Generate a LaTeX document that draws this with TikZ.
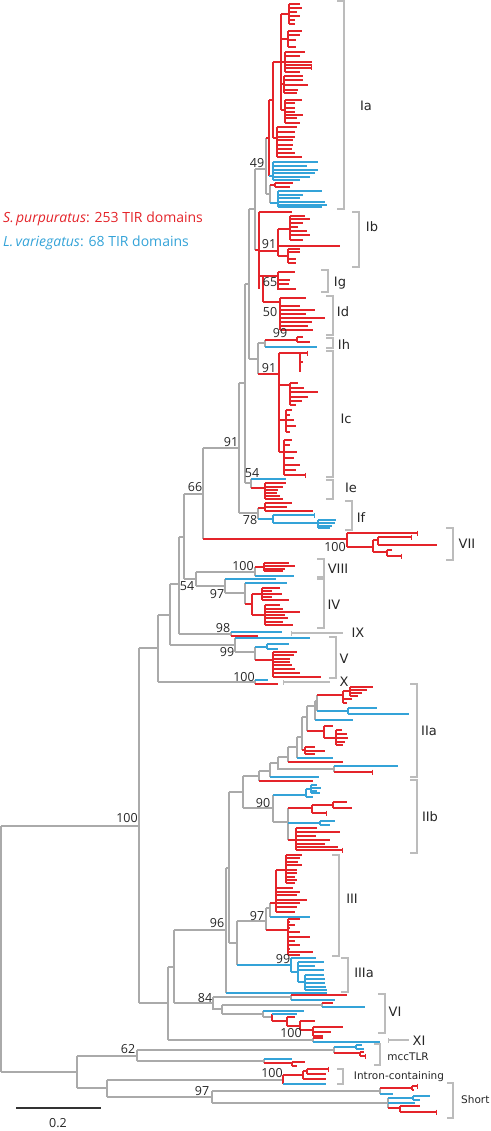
\documentclass[tikz,border=0pt]{standalone}
\usepackage{fontspec}
\setmainfont{Open Sans}
\newfontfamily\cladefont{DejaVu Sans}
\usetikzlibrary{arrows.meta}
\definecolor{spred}{RGB}{228,36,42}
\definecolor{lvblue}{RGB}{52,163,216}
\definecolor{treegray}{RGB}{170,170,170}
\definecolor{brgray}{RGB}{188,188,188}
\tikzset{
  gr/.style={draw=treegray, line width=1.2pt},
  rd/.style={draw=spred, line width=1.2pt},
  bl/.style={draw=lvblue, line width=1.2pt},
  tk/.style={-{Bar[width=5pt]}},
  brk/.style={draw=brgray, line width=1.2pt},
  bs/.style={font=\fontsize{12.5}{13}\selectfont, text=black!85, inner sep=0pt},
  cl/.style={font=\cladefont\fontsize{13}{14}\selectfont, text=black!85, inner sep=0pt},
  sm/.style={font=\cladefont\fontsize{10.5}{12}\selectfont, text=black!85, inner sep=0pt},
  lg/.style={font=\fontsize{14}{16}\selectfont, anchor=west, inner sep=0pt},
}
% branch: grey vertical at the parent, coloured horizontal to the child
\newcommand\edge[3][gr]{\draw[gr] (#2) -- (#2|-#3); \draw[#1] (#2|-#3) -- (#3);}
% stem at x=#2 from #3 to #4, leaves y/xend
\newcommand\comb[5]{\draw[#1] (#2,#3) -- (#2,#4); \foreach \yy/\xx in {#5} \draw[#1] (#2,\yy) -- (\xx,\yy);}
% bracket at x=#1 from #2 to #3, label node #4 at #5
\newcommand\clade[6]{\draw[brk] ({#1-7},#2) -- (#1,#2) -- (#1,#3) -- ({#1-7},#3); \node[cl] (#4) at (#5) {#6};}
\newcommand\cladetick[6]{\draw[brk,{Bar[width=5pt]}-] (#1,#3) -- (#2,#3); \node[cl] (#4) at (#5) {#6};}

\begin{document}
\begin{tikzpicture}[x=1pt,y=-1pt]
\useasboundingbox (0,0) rectangle (490,1131);

% backbone
\coordinate (root) at (1,948);
\coordinate (n100) at (139,826);
\coordinate (nB) at (77,1072);
\coordinate (n158) at (158,648);
\coordinate (n168) at (168,1003);
\coordinate (n170) at (170,615);
\coordinate (nX) at (255,682);
\coordinate (n179) at (179,584);
\coordinate (nV) at (235,645);
\coordinate (n184) at (184,537);
\coordinate (nIX) at (231,634);
\coordinate (n66) at (203,494);
\coordinate (n196) at (196,579);
\coordinate (nVIII) at (255,572);
\coordinate (nIV) at (225,586);
\coordinate (n91) at (239,448);
\coordinate (nVII) at (347,539);
\coordinate (n245) at (245,383);
\coordinate (n78) at (258,513);
\coordinate (n249) at (249,284);
\coordinate (n54) at (251,483);
\coordinate (n255) at (255,209);
\coordinate (nhc) at (258,359);
\coordinate (n49) at (266,169);
\coordinate (nbgd) at (259,250);
\coordinate (R0) at (269,138);
\coordinate (M) at (270,194);
\coordinate (nIh) at (265,343);
\coordinate (nIc) at (279,374);
\coordinate (n174) at (174,967);
\coordinate (nXI) at (313,1040);
\coordinate (n96) at (226,930);
\coordinate (n84) at (213,1003);
\coordinate (n229) at (229,868);
\coordinate (lf96) at (327,993);
\coordinate (n243) at (243,792);
\coordinate (n237) at (237,943);
\coordinate (nIIa) at (259,776);
\coordinate (n90) at (273,808);
\coordinate (nIII) at (266,921);
\coordinate (nIIIa) at (291,965);
\coordinate (n62) at (137,1056);
\coordinate (nC) at (107,1088);
\coordinate (nmA) at (334,1050);
\coordinate (nmB) at (264,1061);
\coordinate (nIn) at (283,1080);
\coordinate (n97s) at (212,1097);
\coordinate (nS1) at (380,1091);
\coordinate (nS2) at (388,1103);

\edge{root}{n100} \edge{root}{nB}
\edge{n100}{n158} \edge{n100}{n168}
\edge{n158}{n170} \edge{n158}{nX}
\edge{n170}{n179} \edge{n170}{nV}
\edge{n179}{n184} \edge{n179}{nIX}
\edge{n184}{n66} \edge{n184}{n196}
\edge{n196}{nVIII} \edge{n196}{nIV}
\edge{n66}{n91} \edge[rd]{n66}{nVII}
\edge{n91}{n245} \edge{n91}{n78}
\edge{n245}{n249} \edge{n245}{n54}
\edge{n249}{n255} \edge{n249}{nhc}
\edge{n255}{n49} \edge[rd]{n255}{nbgd}
\edge[rd]{n49}{R0} \edge{n49}{M}
\edge{nhc}{nIh} \edge[rd]{nhc}{nIc}
\edge{n168}{n174} \edge{n168}{nXI}
\edge{n174}{n96} \edge{n174}{n84}
\edge{n96}{n229} \edge[bl]{n96}{lf96}
\edge{n229}{n243} \edge{n229}{n237}
\edge{n243}{nIIa} \edge{n243}{n90}
\edge{n237}{nIII} \edge[bl]{n237}{nIIIa}
\edge{nB}{n62} \edge{nB}{nC}
\edge{n62}{nmA} \edge{n62}{nmB}
\edge{nC}{nIn} \edge{nC}{n97s}
\edge{n97s}{nS1} \edge{n97s}{nS2}

% Ia
\comb{rd}{269}{100}{176}{100/273}
\draw[bl] (269,176) -- (273,176);
\comb{rd}{273}{62}{138}{62/281,138/277}
\comb{rd}{281}{14}{110}{14/289,39/288,62/285,84/284,110/285}
\comb{rd}{289}{4}{24}{4/300,8/302,12/297,16/300,20/295,24/295}
\comb{rd}{288}{31}{47}{31/302,35/300,40/296,47/296}
\comb{rd}{285}{52}{72}{52/305,56/300,62/312,65/312,72/300}
\draw[rd,tk] (285,68) -- (312,68);
\comb{rd}{284}{76}{93}{76/303,80/303,85/308,90/298,93/297}
\comb{rd}{285}{100}{123}{100/302,103/295,108/295,112/295,115/303,118/297,123/300}
\comb{rd}{277}{127}{157}{127/297,132/295,137/295,140/293,145/293,149/292,153/295,157/302}
\comb{bl}{273}{162}{180}{162/318,166/307,170/318,173/315,177/310,180/300}
\draw[gr] (270,185) -- (270,203);
\draw[rd] (270,185) -- (275,185);
\comb{rd}{275}{183}{187}{183/293,187/290}
\draw[bl] (270,203) -- (278,203);
\comb{bl}{278}{191}{207}{191/322,195/303,198/300,202/325,205/327,207/322}

% Ib, Ig, Id
\comb{rd}{259}{212}{289}{212/292,251/278,276/263}
\draw[rd] (263,276) -- (263,302);
\draw[rd] (263,276) -- (278,276);
\draw[rd] (263,302) -- (280,302);
\comb{rd}{278}{229}{256}{229/290,246/340,256/288}
\comb{rd}{290}{216}{240}{216/305,219/310,223/303,227/298,231/307,235/310,240/303}
\comb{rd}{288}{249}{263}{249/300,252/300,259/296,263/296}
\comb{rd}{278}{272}{290}{272/295,280/290,284/289,289/296}
\comb{rd}{280}{298}{330}{298/306,306/300,310/315,314/306,318/325,322/312,326/308,330/313}

% Ih
\draw[gr] (265,340) -- (265,347);
\draw[rd] (265,340) -- (297,340);
\comb{rd}{297}{337}{342}{337/303,342/310}
\draw[bl] (265,347) -- (317,347);

% Ic
\comb{rd}{279}{353}{452}{353/300,385/290,420/286,452/284}
\comb{rd}{300}{353}{372}{362/303,372/300}
\draw[rd,tk] (300,353) -- (308,353);
\comb{rd}{290}{383}{405}{383/298,388/304,392/318,397/308,401/302,405/296}
\comb{rd}{286}{410}{432}{410/292,415/290,420/294,426/296,432/290}
\comb{rd}{284}{440}{475}{440/292,445/290,452/297,458/294,465/300,470/296}
\draw[rd,tk] (284,475) -- (306,475);

% Ie
\draw[gr] (251,479) -- (251,488);
\draw[bl] (251,479) -- (286,479);
\draw[rd] (251,488) -- (265,488);
\comb{rd}{265}{483}{499}{483/286,487/283,490/278,493/277,496/280,499/283}

% If
\draw[gr] (258,508) -- (258,519);
\draw[rd] (258,508) -- (265,508);
\comb{rd}{265}{503}{511}{503/292,507/287,511/313}
\draw[bl] (258,519) -- (273,519);
\comb{bl}{273}{515}{523}{523/318}
\draw[bl,tk] (273,515) -- (315,515);
\comb{bl}{318}{520}{528}{520/336,523/335,526/332,528/330}

% VII
\draw[rd] (347,533) -- (347,547);
\draw[rd,tk] (347,533) -- (418,533);
\draw[rd] (347,547) -- (373,547);
\comb{rd}{373}{540}{552}{540/378,552/387}
\comb{rd}{378}{537}{545}{545/437}
\draw[rd,tk] (378,537) -- (412,537);
\comb{rd}{387}{550}{556}{550/392}
\draw[rd,tk] (387,556) -- (402,556);

% VIII
\draw[gr] (255,567) -- (255,576);
\draw[rd] (255,567) -- (264,567);
\comb{rd}{264}{563}{571}{563/289,566/295,569/285,571/283}
\draw[bl] (255,576) -- (294,576);

% IV
\draw[gr] (225,579) -- (225,593);
\draw[bl] (225,579) -- (276,579);
\draw[gr] (225,593) -- (245,593);
\draw[gr] (245,583) -- (245,604);
\draw[bl] (245,583) -- (287,583);
\draw[rd] (245,604) -- (252,604);
\comb{rd}{252}{594}{615}{594/262,615/265}
\comb{rd}{262}{588}{600}{588/280,591/272,594/282,597/272,600/289}
\comb{rd}{265}{605}{625}{605/280,609/283,612/300,615/285,618/288,622/283,625/293}

% IX
\draw[gr] (231,632) -- (231,636);
\draw[bl] (231,632) -- (282,632);
\draw[rd] (231,636) -- (258,636);

% V
\draw[gr] (235,638) -- (235,652);
\draw[bl] (235,638) -- (310,638);
\draw[gr] (235,652) -- (255,652);
\draw[gr] (255,647) -- (255,660);
\draw[bl] (255,647) -- (267,647);
\comb{bl}{267}{644}{649}{644/289,649/278}
\draw[rd] (255,660) -- (273,660);
\comb{rd}{273}{652}{677}{652/297,655/294,659/290,662/290,665/292,669/295,673/300,677/321}

% X
\draw[gr] (255,680) -- (255,684);
\draw[bl] (255,680) -- (268,680);
\draw[rd] (255,684) -- (278,684);

% IIa
\draw[gr] (259,771) -- (259,781);
\draw[rd] (259,781) -- (313,781);
\draw[gr] (259,771) -- (270,771);
\draw[gr] (270,763) -- (270,777);
\draw[bl] (270,777) -- (319,777);
\draw[gr] (270,763) -- (278,763);
\draw[gr] (278,757) -- (278,769) -- (334,769);
\draw[gr] (334,766) -- (334,772);
\draw[bl] (334,766) -- (398,766);
\draw[rd,tk] (334,772) -- (373,772);
\draw[gr] (278,757) -- (288,757);
\draw[gr] (288,747) -- (288,762);
\draw[rd] (288,762) -- (343,762);
\draw[gr] (288,747) -- (297,747);
\draw[gr] (297,737) -- (297,758);
\draw[bl] (297,758) -- (333,758);
\draw[gr] (297,737) -- (302,737);
\draw[gr] (302,717) -- (302,750);
\draw[rd] (302,750) -- (305,750);
\comb{rd}{305}{747}{754}{747/315,751/325,754/315}
\draw[gr] (302,717) -- (307,717);
\draw[gr] (307,706) -- (307,731);
\draw[rd] (307,731) -- (324,731);
\comb{rd}{324}{726}{738}{726/333,738/336}
\comb{rd}{336}{730}{745}{730/342,734/347,738/348,742/345,745/343}
\draw[gr] (307,706) -- (315,706);
\draw[gr] (315,701) -- (315,720);
\draw[bl] (315,720) -- (353,720);
\draw[gr] (315,701) -- (317,701);
\draw[gr] (317,695) -- (317,711);
\draw[bl] (317,711) -- (348,711);
\comb{bl}{348}{708}{714}{708/377,714/409}
\draw[rd] (317,695) -- (343,695);
\comb{rd}{343}{691}{703}{691/350,699/352,703/347}
\comb{rd}{350}{687}{696}{687/373,690/367,693/362,696/358}

% IIb
\draw[gr] (273,795) -- (273,822);
\draw[bl] (273,795) -- (306,795);
\comb{bl}{306}{789}{797}{789/311,797/313}
\comb{bl}{311}{785}{793}{785/317,788/321,791/317,793/320}
\draw[gr] (273,822) -- (288,822);
\draw[gr] (288,808) -- (288,840);
\draw[rd] (288,808) -- (312,808);
\comb{rd}{312}{805}{813}{805/333}
\draw[rd,tk] (312,813) -- (327,813);
\comb{rd}{333}{802}{808}{802/347,808/352}
\draw[bl] (288,823) -- (320,823);
\comb{bl}{320}{821}{825}{821/335,825/330}
\draw[rd] (288,840) -- (296,840);
\comb{rd}{296}{828}{850}{828/317,832/340,836/316,840/330,844/325,847/338}
\draw[rd,tk] (296,850) -- (343,850);

% III
\draw[gr] (266,908) -- (266,930);
\draw[gr] (266,908) -- (270,908);
\draw[gr] (270,903) -- (270,917);
\draw[bl] (270,917) -- (310,917);
\draw[rd] (270,903) -- (276,903);
\comb{rd}{276}{870}{912}{870/286,888/293,892/300,895/297,900/307,903/300,907/297,912/295}
\comb{rd}{286}{855}{883}{855/302,858/300,862/298,865/302,870/297,873/297,877/295,880/297,883/295}
\draw[rd] (266,930) -- (288,930);
\comb{rd}{288}{919}{955}{919/300,922/290,925/295,928/290,932/300,937/310,941/295,945/300,949/290,952/313,955/300}

% IIIa
\comb{bl}{291}{958}{972}{958/316,972/298}
\comb{bl}{298}{962}{982}{962/324,966/315,970/324,982/305}
\comb{bl}{305}{975}{990}{975/324,979/325,983/325,987/326,990/327}

% VI
\draw[gr] (213,997) -- (291,997);
\draw[gr] (291,995) -- (291,1000);
\draw[rd] (291,995) -- (347,995);
\draw[bl] (291,1000) -- (335,1000);
\draw[gr] (213,997) -- (213,1009) -- (222,1009);
\draw[gr] (222,1005) -- (222,1014);
\draw[gr] (222,1005) -- (322,1005);
\draw[gr] (322,1003) -- (322,1007);
\draw[rd] (322,1003) -- (333,1003);
\draw[bl] (322,1007) -- (365,1007);
\draw[gr] (222,1014) -- (263,1014);
\draw[gr] (263,1011) -- (263,1017);
\draw[bl] (263,1011) -- (304,1011);
\draw[gr] (263,1017) -- (272,1017);
\draw[rd] (272,1014) -- (272,1021);
\draw[bl] (272,1014) -- (297,1014);
\draw[rd] (272,1021) -- (287,1021);
\comb{rd}{287}{1017}{1026}{1017/295,1026/300}
\comb{rd}{300}{1021}{1030}{1021/315,1030/313}
\comb{rd}{313}{1027}{1036}{1027/343,1032/331,1036/323}

% XI
\draw[gr] (313,1038) -- (313,1042);
\draw[rd] (313,1038) -- (323,1038);
\draw[bl] (313,1042) -- (380,1042);

% mccTLR
\draw[gr] (334,1047) -- (334,1053);
\draw[bl] (334,1047) -- (356,1047);
\comb{bl}{356}{1045}{1049}{1045/362,1049/364}
\draw[rd] (334,1053) -- (360,1053);
\comb{rd}{360}{1052}{1056}{1052/364}
\draw[rd,tk] (360,1056) -- (366,1056);
\draw[gr] (264,1059) -- (264,1063);
\draw[bl] (264,1059) -- (292,1059);
\draw[rd] (264,1063) -- (292,1063);
\comb{rd}{292}{1062}{1066}{1062/305,1066/297}

% intron-containing
\draw[rd] (283,1075) -- (283,1084);
\draw[rd] (283,1075) -- (303,1075);
\comb{rd}{303}{1071}{1079}{1079/326}
\draw[rd] (303,1071) -- (307,1071);
\comb{rd}{307}{1069}{1074}{1074/326}
\draw[rd,tk] (307,1069) -- (329,1069);
\draw[bl] (283,1084) -- (326,1084);

% short
\draw[gr] (380,1088) -- (380,1094);
\draw[rd] (380,1088) -- (412,1088);
\comb{rd}{412}{1086}{1090}{1090/414}
\draw[rd,tk] (412,1086) -- (418,1086);
\draw[bl] (380,1094) -- (393,1094);
\draw[gr] (388,1098) -- (388,1108);
\draw[bl] (388,1098) -- (413,1098);
\comb{bl}{413}{1096}{1100}{1096/430,1100/420}
\draw[bl] (388,1103) -- (415,1103);
\draw[rd] (388,1108) -- (400,1108);
\comb{rd}{400}{1106}{1112}{1106/420}
\draw[rd,tk] (400,1112) -- (437,1112);

% bootstrap values
\node[bs] (b49) at (257,163) {49};
\node[bs] (b91Ib) at (269,244) {91};
\node[bs] (b65) at (270,282) {65};
\node[bs] (b50) at (270,312) {50};
\node[bs] (b99Ih) at (280,333) {99};
\node[bs] (b91Ic) at (269,368) {91};
\node[bs] (b91) at (231,442) {91};
\node[bs] (b54Ie) at (252,473) {54};
\node[bs] (b66) at (195,487) {66};
\node[bs] (b78) at (250,520) {78};
\node[bs] (b100VII) at (335,547) {100};
\node[bs] (b100VIII) at (243,566) {100};
\node[bs] (b54) at (187,586) {54};
\node[bs] (b97IV) at (217,594) {97};
\node[bs] (b98) at (223,628) {98};
\node[bs] (b99V) at (227,652) {99};
\node[bs] (b100X) at (244,677) {100};
\node[bs] (b100) at (127,818) {100};
\node[bs] (b90) at (263,803) {90};
\node[bs] (b97III) at (257,916) {97};
\node[bs] (b96) at (217,923) {96};
\node[bs] (b99IIIa) at (283,959) {99};
\node[bs] (b84) at (205,998) {84};
\node[bs] (b100VI) at (291,1033) {100};
\node[bs] (b62) at (128,1049) {62};
\node[bs] (b100In) at (272,1073) {100};
\node[bs] (b97S) at (202,1091) {97};

% clades
\clade{344}{1}{209}{cIa}{366,106}{Ia}
\clade{359}{212}{267}{cIb}{372,227}{Ib}
\clade{328}{270}{292}{cIg}{340,283}{Ig}
\clade{333}{296}{335}{cId}{343,312}{Id}
\clade{333}{338}{348}{cIh}{344,345}{Ih}
\clade{333}{351}{477}{cIc}{346,419}{Ic}
\clade{333}{480}{499}{cIe}{351,488}{Ie}
\clade{352}{501}{530}{cIf}{361,518}{If}
\clade{453}{528}{560}{cVII}{467,544}{VII}
\clade{324}{559}{577}{cVIII}{338,569}{VIII}
\clade{324}{579}{628}{cIV}{334,605}{IV}
\cladetick{291}{343}{633}{cIX}{358,633}{IX}
\clade{336}{637}{678}{cV}{344,659}{V}
\cladetick{283}{330}{682}{cX}{344,682}{X}
\clade{417}{684}{777}{cIIa}{429,731}{IIa}
\clade{417}{780}{853}{cIIb}{430,817}{IIb}
\clade{339}{855}{956}{cIII}{352,899}{III}
\clade{348}{958}{992}{cIIIa}{364,973}{IIIa}
\clade{385}{994}{1033}{cVI}{395,1012}{VI}
\cladetick{388}{409}{1040}{cXI}{419,1041}{XI}
\draw[brk] (374,1044) -- (380,1044) -- (380,1065) -- (374,1065);
\node[sm] (cmcc) at (408,1057) {mccTLR};
\draw[brk] (337,1069) -- (343,1069) -- (343,1084) -- (337,1084);
\node[sm] (cIn) at (399,1077) {Intron-containing};
\draw[brk] (447,1083) -- (453,1083) -- (453,1118) -- (447,1118);
\node[sm, anchor=west] (cShort) at (461,1100) {Short};

% legend
\node[lg, text=spred] (lgS) at (3,219) {\textit{S.\,purpuratus}: 253 TIR domains};
\node[lg, text=lvblue] (lgL) at (3,243) {\textit{L.\,variegatus}: 68 TIR domains};

% scale bar
\coordinate (sb1) at (16,1108);
\coordinate (sb2) at (101,1108);
\draw[line width=1.2pt, black!80] (sb1) -- (sb2);
\node[bs] (sbl) at (58,1123) {0.2};
\end{tikzpicture}
\end{document}
